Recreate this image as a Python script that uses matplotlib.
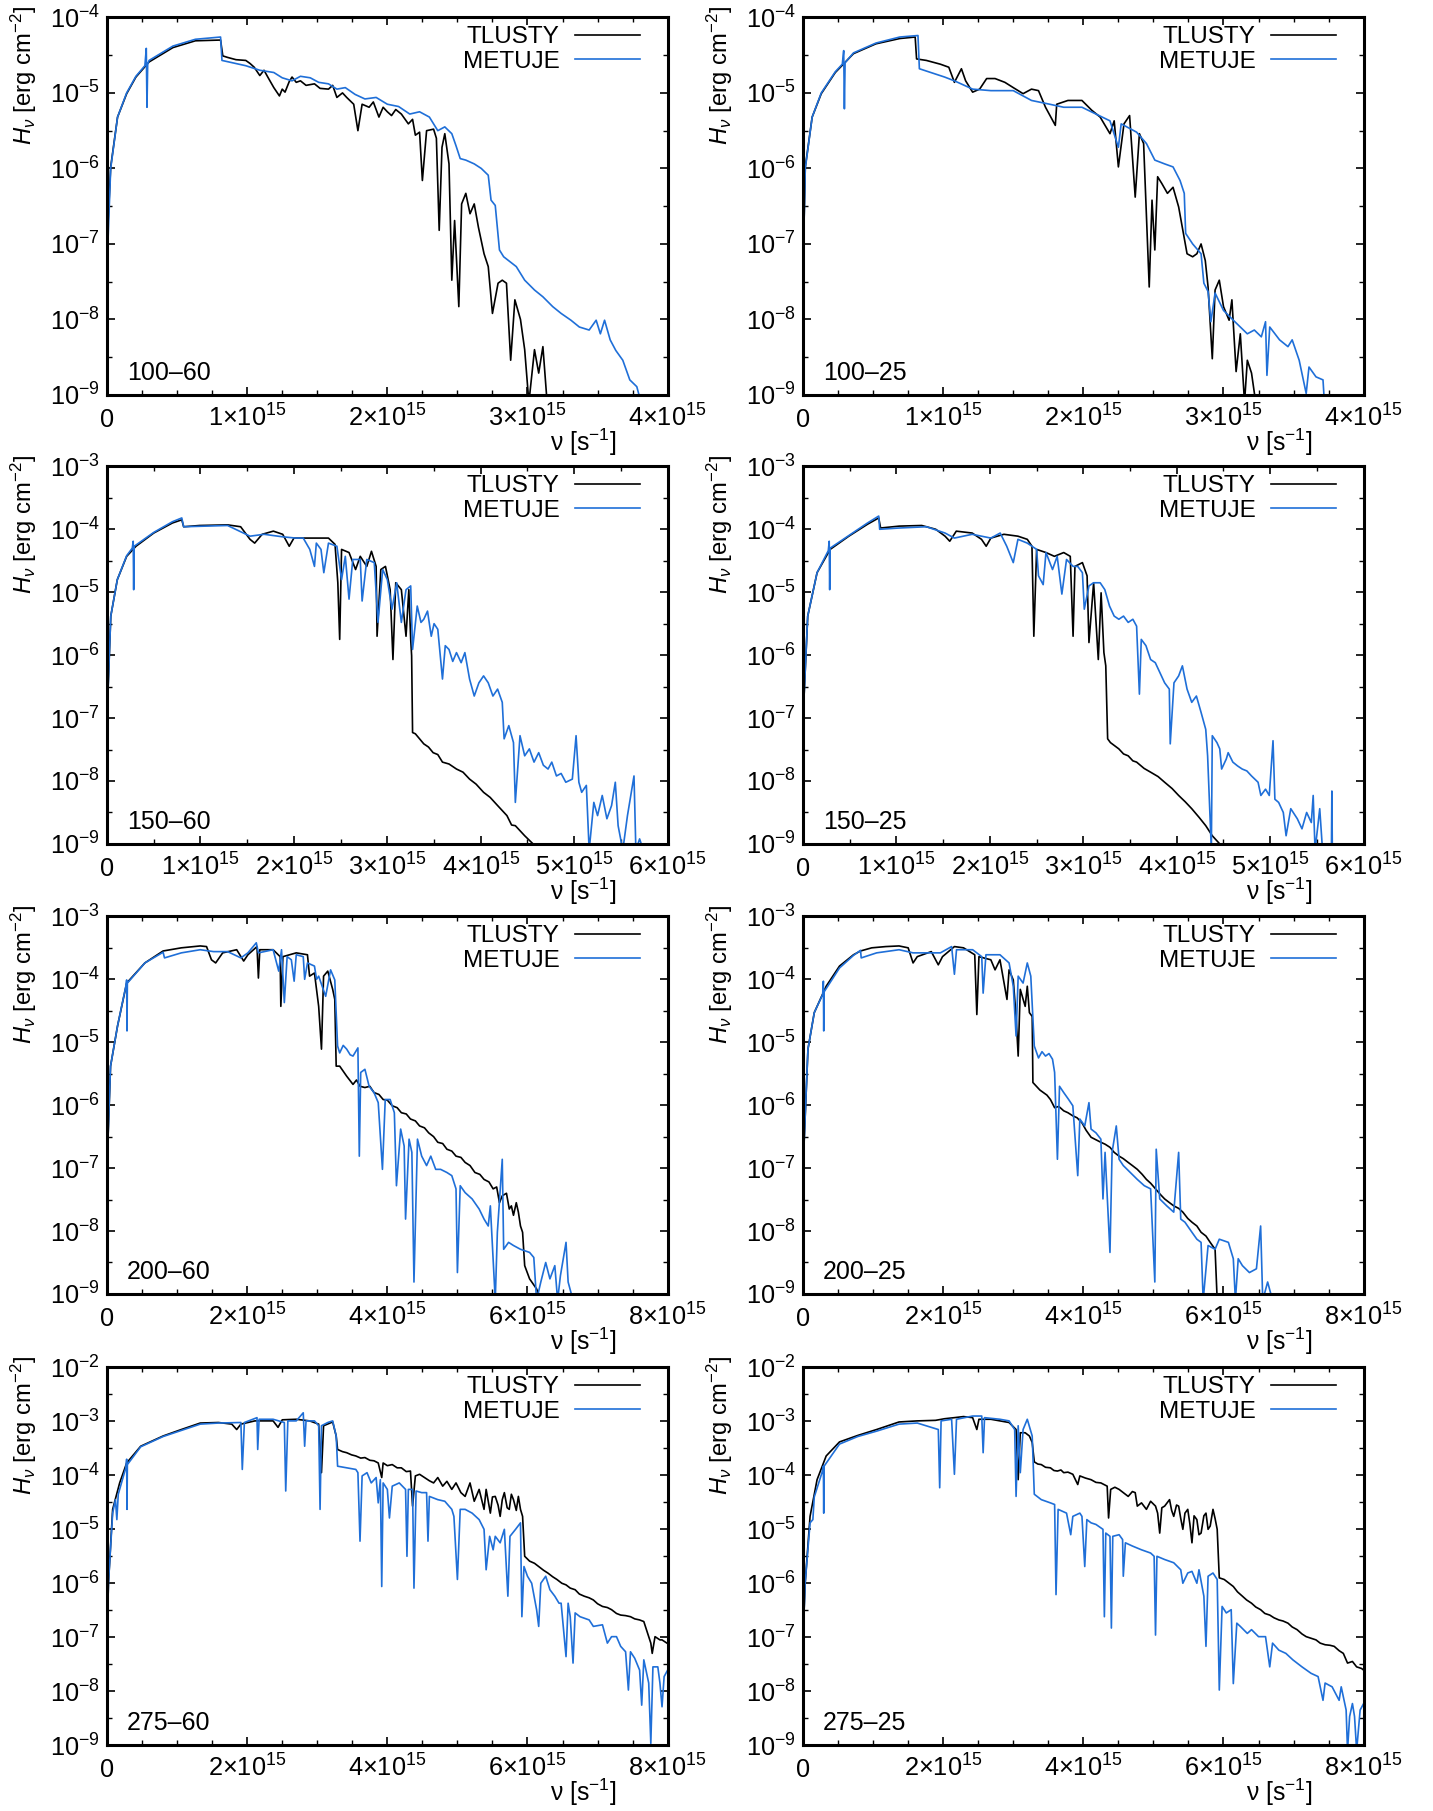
import numpy as np
import matplotlib.pyplot as plt
from matplotlib.ticker import MultipleLocator, FuncFormatter, LogLocator, LogFormatterSciNotation, NullFormatter

plt.rcParams['font.family'] = ['Liberation Sans', 'DejaVu Sans']
plt.rcParams['mathtext.fontset'] = 'custom'
plt.rcParams['mathtext.rm'] = 'Liberation Sans'
plt.rcParams['mathtext.it'] = 'Liberation Sans:italic'
plt.rcParams['mathtext.sf'] = 'Liberation Sans'
plt.rcParams['mathtext.bf'] = 'Liberation Sans:bold'

# (nu / 1e15, log10 H_nu)
tl_100_60 = [(0.0, -7.0), (0.026, -5.98), (0.075, -5.32), (0.14, -5.01), (0.206, -4.79), (0.30, -4.59), (0.47, -4.40),
             (0.63, -4.31), (0.81, -4.30), (0.826, -4.51), (0.86, -4.53), (0.92, -4.56), (0.99, -4.57), (1.02, -4.61),
             (1.05, -4.66), (1.09, -4.77), (1.12, -4.70), (1.15, -4.80), (1.19, -4.93), (1.23, -5.04), (1.25, -4.95),
             (1.27, -4.99), (1.30, -4.85), (1.32, -4.79), (1.35, -4.86), (1.38, -4.84), (1.42, -4.90), (1.48, -4.88),
             (1.52, -4.94), (1.58, -4.95), (1.61, -4.90), (1.64, -5.06), (1.68, -5.00), (1.71, -5.06), (1.76, -5.15),
             (1.79, -5.50), (1.82, -5.15), (1.87, -5.19), (1.90, -5.12), (1.94, -5.32), (1.97, -5.19), (2.00, -5.25),
             (2.03, -5.30), (2.06, -5.22), (2.10, -5.28), (2.15, -5.41), (2.18, -5.35), (2.20, -5.56), (2.23, -5.52),
             (2.25, -6.16), (2.28, -5.50), (2.33, -5.48), (2.35, -5.60), (2.37, -6.82), (2.39, -5.72), (2.41, -5.54),
             (2.44, -5.94), (2.46, -7.48), (2.48, -6.69), (2.51, -7.83), (2.53, -6.47), (2.56, -6.33), (2.59, -6.60),
             (2.62, -6.47), (2.65, -6.78), (2.69, -7.13), (2.72, -7.30), (2.75, -7.92), (2.79, -7.52), (2.82, -7.48),
             (2.85, -7.52), (2.88, -8.54), (2.91, -7.74), (2.95, -8.0), (2.98, -8.40), (3.01, -9.1), (3.05, -8.40),
             (3.08, -8.71), (3.11, -8.36), (3.14, -9.1)]
me_100_60 = [(0.0, -7.3), (0.026, -6.0), (0.075, -5.32), (0.14, -5.0), (0.206, -4.78), (0.27, -4.64), (0.28, -4.41),
             (0.285, -5.19), (0.29, -4.62), (0.30, -4.57), (0.47, -4.38), (0.63, -4.29), (0.81, -4.26), (0.82, -4.57),
             (0.99, -4.64), (1.09, -4.70), (1.19, -4.73), (1.25, -4.80), (1.32, -4.84), (1.38, -4.78), (1.45, -4.80),
             (1.51, -4.86), (1.58, -4.88), (1.64, -4.95), (1.70, -4.93), (1.77, -5.02), (1.84, -5.08), (1.92, -5.06),
             (2.0, -5.15), (2.08, -5.18), (2.16, -5.28), (2.23, -5.25), (2.30, -5.32), (2.36, -5.50), (2.41, -5.45),
             (2.46, -5.54), (2.49, -5.70), (2.52, -5.87), (2.56, -5.89), (2.62, -5.94), (2.67, -6.0), (2.72, -6.09),
             (2.74, -6.42), (2.77, -6.49), (2.80, -7.08), (2.83, -7.17), (2.92, -7.30), (2.98, -7.48), (3.05, -7.61),
             (3.11, -7.70), (3.18, -7.83), (3.24, -7.92), (3.31, -8.01), (3.37, -8.10), (3.44, -8.14), (3.49, -8.01),
             (3.52, -8.19), (3.55, -8.01), (3.59, -8.27), (3.63, -8.41), (3.68, -8.54), (3.73, -8.80), (3.78, -8.89),
             (3.81, -9.1)]

tl_100_25 = [(0.0, -7.3), (0.016, -5.98), (0.065, -5.32), (0.13, -5.01), (0.23, -4.73), (0.36, -4.48), (0.52, -4.35),
             (0.69, -4.28), (0.80, -4.26), (0.81, -4.55), (0.88, -4.57), (0.98, -4.62), (1.04, -4.66), (1.08, -4.86),
             (1.13, -4.68), (1.16, -4.84), (1.21, -4.99), (1.26, -4.95), (1.31, -4.81), (1.37, -4.81), (1.44, -4.86),
             (1.50, -4.93), (1.57, -5.01), (1.63, -4.95), (1.68, -4.97), (1.73, -5.19), (1.80, -5.43), (1.81, -5.15),
             (1.89, -5.10), (1.99, -5.10), (2.06, -5.23), (2.12, -5.32), (2.19, -5.54), (2.22, -5.37), (2.25, -5.98),
             (2.29, -5.41), (2.33, -5.30), (2.37, -6.38), (2.40, -5.54), (2.43, -5.67), (2.47, -7.57), (2.49, -6.42),
             (2.51, -7.08), (2.53, -6.11), (2.56, -6.20), (2.60, -6.33), (2.64, -6.25), (2.68, -6.51), (2.71, -6.82),
             (2.74, -7.13), (2.78, -7.17), (2.81, -7.13), (2.84, -7.0), (2.87, -7.22), (2.89, -7.57), (2.92, -8.52),
             (2.94, -7.61), (2.97, -7.48), (3.00, -7.83), (3.04, -8.01), (3.06, -7.74), (3.09, -8.69), (3.12, -8.19),
             (3.15, -9.1), (3.17, -8.54), (3.20, -8.71), (3.23, -9.1)]
me_100_25 = [(0.0, -7.3), (0.016, -6.0), (0.065, -5.32), (0.13, -5.0), (0.23, -4.72), (0.28, -4.62), (0.29, -4.44),
             (0.295, -5.21), (0.30, -4.60), (0.36, -4.47), (0.52, -4.34), (0.69, -4.26), (0.82, -4.24), (0.83, -4.68),
             (1.01, -4.79), (1.08, -4.84), (1.21, -4.95), (1.34, -4.97), (1.50, -4.97), (1.63, -5.10), (1.76, -5.15),
             (1.86, -5.19), (1.99, -5.19), (2.09, -5.28), (2.19, -5.37), (2.25, -5.72), (2.27, -5.41), (2.38, -5.52),
             (2.45, -5.67), (2.51, -5.89), (2.58, -5.94), (2.64, -5.98), (2.69, -6.16), (2.72, -6.33), (2.73, -6.86),
             (2.78, -7.0), (2.84, -7.13), (2.86, -7.52), (2.89, -7.63), (2.91, -8.03), (2.94, -7.65), (3.00, -7.88),
             (3.07, -8.01), (3.17, -8.19), (3.22, -8.14), (3.27, -8.23), (3.30, -8.03), (3.31, -8.74), (3.33, -8.10),
             (3.40, -8.27), (3.46, -8.36), (3.49, -8.27), (3.54, -8.54), (3.59, -8.98), (3.61, -8.63), (3.66, -8.76),
             (3.71, -8.80), (3.72, -9.1)]

tl_150_60 = [(0.0, -6.96), (0.04, -5.38), (0.11, -4.80), (0.21, -4.43), (0.31, -4.27), (0.50, -4.06), (0.70, -3.90),
             (0.80, -3.85), (0.82, -3.96), (0.99, -3.94), (1.29, -3.93), (1.43, -3.96), (1.53, -4.16), (1.58, -4.22),
             (1.66, -4.08), (1.78, -4.03), (1.88, -4.08), (1.95, -4.27), (2.0, -4.14), (2.12, -4.14), (2.27, -4.14),
             (2.37, -4.14), (2.44, -4.24), (2.47, -4.85), (2.49, -5.75), (2.51, -4.32), (2.59, -4.37), (2.66, -4.64),
             (2.71, -4.43), (2.78, -4.59), (2.83, -4.35), (2.88, -4.59), (2.89, -5.70), (2.93, -4.64), (2.98, -4.59),
             (3.03, -4.96), (3.06, -6.07), (3.09, -4.85), (3.15, -4.96), (3.20, -5.70), (3.23, -4.96), (3.25, -5.75),
             (3.26, -6.01), (3.27, -7.23), (3.30, -7.25), (3.39, -7.41), (3.44, -7.46), (3.49, -7.55), (3.54, -7.58),
             (3.59, -7.70), (3.66, -7.73), (3.74, -7.81), (3.81, -7.86), (3.88, -7.97), (3.95, -8.05), (4.03, -8.18),
             (4.10, -8.26), (4.18, -8.39), (4.28, -8.55), (4.33, -8.70), (4.37, -8.71), (4.47, -8.87), (4.56, -9.0)]
me_150_60 = [(0.0, -7.0), (0.04, -5.38), (0.11, -4.80), (0.21, -4.42), (0.27, -4.30), (0.28, -4.19), (0.285, -4.96),
             (0.29, -4.27), (0.31, -4.25), (0.50, -4.05), (0.70, -3.88), (0.80, -3.82), (0.82, -3.96), (1.29, -3.94),
             (1.53, -4.11), (1.68, -4.08), (1.88, -4.12), (2.02, -4.14), (2.10, -4.14), (2.17, -4.32), (2.22, -4.59),
             (2.24, -4.22), (2.29, -4.32), (2.32, -4.69), (2.37, -4.22), (2.46, -4.27), (2.51, -4.80), (2.55, -4.43),
             (2.59, -5.11), (2.63, -4.48), (2.71, -4.48), (2.73, -5.14), (2.78, -4.48), (2.86, -4.53), (2.90, -5.48),
             (2.95, -4.64), (3.00, -4.80), (3.05, -5.27), (3.10, -4.85), (3.15, -5.48), (3.20, -4.96), (3.25, -4.90),
             (3.27, -5.91), (3.32, -5.22), (3.36, -5.48), (3.39, -5.43), (3.43, -5.30), (3.47, -5.70), (3.50, -5.50),
             (3.54, -5.59), (3.59, -6.38), (3.62, -5.85), (3.66, -5.91), (3.70, -6.10), (3.74, -5.96), (3.79, -6.12),
             (3.83, -5.96), (3.88, -6.38), (3.93, -6.65), (3.98, -6.44), (4.03, -6.33), (4.08, -6.44), (4.13, -6.65),
             (4.18, -6.54), (4.23, -6.75), (4.25, -7.33), (4.30, -7.12), (4.35, -7.39), (4.37, -8.34), (4.42, -7.28),
             (4.47, -7.60), (4.52, -7.49), (4.57, -7.70), (4.62, -7.55), (4.67, -7.75), (4.72, -7.81), (4.76, -7.70),
             (4.81, -7.92), (4.86, -7.88), (4.91, -8.02), (4.98, -7.97), (5.02, -7.28), (5.05, -8.02), (5.08, -8.18),
             (5.13, -8.07), (5.16, -9.1), (5.21, -8.34), (5.25, -8.55), (5.30, -8.23), (5.35, -8.60), (5.40, -8.39),
             (5.44, -8.02), (5.47, -8.71), (5.52, -9.1), (5.57, -8.55), (5.64, -7.92), (5.66, -9.1), (5.70, -8.92),
             (5.74, -9.1)]

tl_150_25 = [(0.0, -7.0), (0.05, -5.38), (0.15, -4.69), (0.29, -4.32), (0.49, -4.11), (0.69, -3.92), (0.81, -3.82),
             (0.83, -3.98), (1.03, -3.95), (1.27, -3.94), (1.42, -4.0), (1.52, -4.11), (1.57, -4.19), (1.64, -4.03),
             (1.81, -4.06), (1.91, -4.16), (1.96, -4.27), (2.01, -4.14), (2.15, -4.08), (2.30, -4.11), (2.40, -4.16),
             (2.45, -4.27), (2.47, -5.70), (2.50, -4.32), (2.60, -4.37), (2.69, -4.43), (2.79, -4.37), (2.86, -4.43),
             (2.89, -5.70), (2.91, -4.59), (2.99, -4.53), (3.04, -4.74), (3.06, -5.80), (3.11, -4.85), (3.16, -6.07),
             (3.19, -5.01), (3.22, -5.96), (3.24, -6.17), (3.26, -7.33), (3.29, -7.39), (3.38, -7.49), (3.43, -7.57),
             (3.48, -7.60), (3.53, -7.68), (3.57, -7.70), (3.65, -7.80), (3.72, -7.86), (3.80, -7.93), (3.87, -8.02),
             (3.95, -8.12), (4.02, -8.23), (4.09, -8.33), (4.16, -8.44), (4.24, -8.58), (4.31, -8.71), (4.38, -8.87),
             (4.46, -9.0)]
me_150_25 = [(0.0, -7.0), (0.05, -5.38), (0.15, -4.69), (0.27, -4.34), (0.28, -4.19), (0.285, -4.96), (0.29, -4.30),
             (0.49, -4.10), (0.69, -3.90), (0.81, -3.79), (0.82, -4.0), (1.03, -3.98), (1.32, -3.96), (1.52, -4.06),
             (1.62, -4.14), (1.81, -4.08), (2.01, -4.14), (2.11, -4.06), (2.18, -4.27), (2.25, -4.53), (2.30, -4.16),
             (2.40, -4.22), (2.50, -4.32), (2.52, -4.74), (2.57, -4.88), (2.60, -4.37), (2.67, -4.64), (2.72, -4.43),
             (2.77, -5.03), (2.82, -4.48), (2.89, -4.59), (2.94, -4.59), (2.99, -4.69), (3.01, -5.27), (3.06, -4.90),
             (3.11, -4.85), (3.18, -4.85), (3.23, -4.96), (3.28, -5.22), (3.33, -5.38), (3.38, -5.43), (3.43, -5.38),
             (3.48, -5.48), (3.53, -5.43), (3.57, -5.54), (3.60, -6.62), (3.62, -5.75), (3.67, -5.85), (3.72, -6.07),
             (3.77, -6.12), (3.82, -6.28), (3.87, -6.44), (3.92, -6.54), (3.93, -7.41), (3.97, -6.44), (4.02, -6.33),
             (4.06, -6.17), (4.11, -6.54), (4.16, -6.75), (4.21, -6.65), (4.26, -6.91), (4.31, -7.18), (4.33, -7.60),
             (4.37, -9.1), (4.38, -7.28), (4.43, -7.39), (4.46, -7.49), (4.48, -7.81), (4.53, -7.65), (4.55, -7.55),
             (4.60, -7.70), (4.65, -7.76), (4.70, -7.81), (4.75, -7.84), (4.80, -7.92), (4.87, -8.02), (4.90, -8.23),
             (4.95, -8.13), (4.99, -8.23), (5.03, -7.36), (5.05, -8.29), (5.09, -8.34), (5.14, -8.50), (5.17, -8.87),
             (5.22, -8.44), (5.29, -8.60), (5.34, -8.76), (5.39, -8.50), (5.44, -8.66), (5.46, -8.23), (5.48, -9.1),
             (5.51, -8.71), (5.53, -8.44), (5.56, -9.1), (5.655, -9.1), (5.66, -8.16), (5.665, -9.1)]

tl_200_60 = [(0.0, -6.96), (0.05, -5.38), (0.15, -4.74), (0.28, -4.06), (0.54, -3.74), (0.80, -3.55), (1.06, -3.50),
             (1.33, -3.47), (1.42, -3.48), (1.49, -3.69), (1.55, -3.74), (1.65, -3.58), (1.85, -3.53), (1.95, -3.71),
             (2.01, -3.61), (2.14, -3.48), (2.16, -3.98), (2.18, -3.53), (2.37, -3.53), (2.47, -3.64), (2.48, -4.43),
             (2.51, -3.64), (2.70, -3.58), (2.86, -3.61), (2.89, -3.95), (2.96, -3.90), (3.02, -4.43), (3.06, -5.11),
             (3.09, -3.95), (3.15, -3.87), (3.22, -4.16), (3.25, -4.32), (3.27, -5.38), (3.32, -5.38), (3.42, -5.54),
             (3.51, -5.67), (3.56, -5.60), (3.61, -5.70), (3.68, -5.72), (3.75, -5.70), (3.81, -5.80), (3.88, -5.83),
             (3.94, -5.91), (4.00, -5.92), (4.07, -6.01), (4.14, -6.04), (4.20, -6.12), (4.27, -6.14), (4.33, -6.22),
             (4.40, -6.25), (4.46, -6.33), (4.53, -6.36), (4.59, -6.44), (4.66, -6.50), (4.72, -6.59), (4.79, -6.61),
             (4.85, -6.70), (4.92, -6.73), (4.98, -6.81), (5.05, -6.83), (5.11, -6.91), (5.18, -6.96), (5.25, -7.07),
             (5.32, -7.10), (5.38, -7.18), (5.45, -7.22), (5.51, -7.33), (5.56, -7.30), (5.60, -7.55), (5.64, -7.44),
             (5.70, -7.40), (5.74, -7.65), (5.77, -7.60), (5.80, -7.75), (5.84, -7.55), (5.87, -7.70), (5.90, -7.92),
             (5.93, -8.02), (5.96, -8.55), (6.03, -8.76), (6.13, -8.92), (6.16, -9.0)]
me_200_60 = [(0.0, -6.96), (0.05, -5.38), (0.15, -4.74), (0.27, -4.10), (0.28, -4.01), (0.285, -4.82), (0.29, -4.06),
             (0.54, -3.74), (0.80, -3.57), (0.82, -3.66), (1.06, -3.58), (1.33, -3.53), (1.52, -3.56), (1.72, -3.56),
             (1.91, -3.66), (2.01, -3.58), (2.13, -3.42), (2.16, -3.58), (2.37, -3.53), (2.45, -3.87), (2.49, -3.53),
             (2.53, -4.37), (2.57, -3.64), (2.63, -3.69), (2.67, -4.03), (2.70, -3.61), (2.80, -3.64), (2.82, -4.0),
             (2.86, -3.74), (2.96, -3.79), (2.99, -4.0), (3.02, -3.95), (3.12, -4.27), (3.19, -3.85), (3.25, -4.01),
             (3.29, -5.06), (3.32, -5.17), (3.37, -5.05), (3.42, -5.11), (3.47, -5.20), (3.51, -5.22), (3.58, -5.09),
             (3.60, -6.81), (3.62, -5.48), (3.68, -5.43), (3.74, -5.70), (3.81, -5.80), (3.87, -5.96), (3.93, -7.02),
             (3.97, -5.91), (4.04, -5.91), (4.10, -6.12), (4.13, -7.28), (4.19, -6.38), (4.24, -6.65), (4.26, -7.81),
             (4.31, -6.54), (4.35, -6.75), (4.38, -8.81), (4.43, -6.54), (4.49, -6.81), (4.56, -6.96), (4.62, -6.81),
             (4.69, -7.02), (4.76, -7.02), (4.85, -7.07), (4.92, -7.12), (4.98, -7.33), (5.00, -8.66), (5.04, -7.28),
             (5.11, -7.39), (5.21, -7.49), (5.31, -7.65), (5.38, -7.81), (5.44, -7.92), (5.47, -7.60), (5.54, -9.1),
             (5.57, -8.02), (5.64, -6.86), (5.66, -8.29), (5.73, -8.18), (5.80, -8.23), (5.90, -8.29), (6.03, -8.34),
             (6.09, -8.42), (6.13, -9.1), (6.19, -8.81), (6.26, -8.50), (6.32, -8.76), (6.39, -8.55), (6.43, -9.1),
             (6.47, -8.71), (6.55, -8.18), (6.58, -8.81), (6.65, -9.1)]

tl_200_25 = [(0.0, -7.0), (0.07, -5.11), (0.16, -4.53), (0.33, -4.11), (0.52, -3.79), (0.72, -3.61), (0.82, -3.55),
             (0.98, -3.50), (1.18, -3.48), (1.37, -3.47), (1.50, -3.50), (1.57, -3.74), (1.63, -3.64), (1.83, -3.56),
             (1.93, -3.77), (1.99, -3.64), (2.16, -3.48), (2.29, -3.50), (2.45, -3.61), (2.48, -4.56), (2.51, -3.64),
             (2.68, -3.69), (2.74, -3.85), (2.81, -3.69), (2.91, -4.32), (2.94, -3.85), (3.00, -4.01), (3.04, -4.59),
             (3.07, -5.22), (3.10, -4.16), (3.17, -4.43), (3.20, -4.11), (3.23, -4.53), (3.27, -4.59), (3.28, -5.64),
             (3.33, -5.70), (3.38, -5.76), (3.43, -5.80), (3.48, -5.84), (3.53, -5.91), (3.59, -6.04), (3.65, -6.02),
             (3.72, -6.09), (3.78, -6.12), (3.85, -6.17), (3.91, -6.20), (3.98, -6.28), (4.04, -6.40), (4.11, -6.51),
             (4.18, -6.55), (4.25, -6.59), (4.31, -6.62), (4.38, -6.67), (4.44, -6.75), (4.51, -6.81), (4.57, -6.85),
             (4.64, -6.91), (4.70, -6.96), (4.77, -7.02), (4.84, -7.10), (4.90, -7.18), (4.96, -7.24), (5.03, -7.33),
             (5.10, -7.42), (5.16, -7.49), (5.23, -7.55), (5.29, -7.60), (5.36, -7.64), (5.42, -7.70), (5.49, -7.80),
             (5.55, -7.86), (5.62, -7.92), (5.68, -8.02), (5.75, -8.08), (5.81, -8.18), (5.88, -8.29), (5.91, -9.1)]
me_200_25 = [(0.0, -7.0), (0.07, -5.11), (0.16, -4.53), (0.28, -4.24), (0.29, -4.03), (0.295, -4.82), (0.30, -4.20),
             (0.52, -3.82), (0.72, -3.62), (0.82, -3.54), (0.83, -3.66), (1.05, -3.58), (1.37, -3.53), (1.57, -3.58),
             (1.83, -3.58), (1.96, -3.58), (2.12, -3.48), (2.16, -3.92), (2.19, -3.53), (2.42, -3.53), (2.55, -3.64),
             (2.57, -4.22), (2.61, -3.61), (2.81, -3.61), (2.94, -3.74), (3.00, -4.11), (3.04, -4.90), (3.07, -3.95),
             (3.14, -4.06), (3.20, -3.74), (3.25, -3.95), (3.30, -5.06), (3.36, -5.25), (3.41, -5.15), (3.46, -5.22),
             (3.51, -5.18), (3.56, -5.27), (3.59, -5.48), (3.63, -6.86), (3.66, -5.70), (3.72, -5.80), (3.79, -5.91),
             (3.85, -6.01), (3.92, -7.12), (3.95, -6.22), (4.02, -6.33), (4.08, -5.96), (4.11, -6.38), (4.18, -6.44),
             (4.25, -6.54), (4.28, -7.49), (4.31, -6.75), (4.38, -8.34), (4.41, -6.75), (4.47, -6.33), (4.51, -6.86),
             (4.57, -6.96), (4.67, -7.07), (4.77, -7.18), (4.87, -7.28), (4.96, -7.33), (5.02, -8.81), (5.04, -6.70),
             (5.09, -7.49), (5.19, -7.60), (5.29, -7.70), (5.36, -6.75), (5.39, -7.81), (5.45, -7.86), (5.55, -8.02),
             (5.62, -8.13), (5.68, -8.18), (5.71, -9.1), (5.78, -8.23), (5.88, -8.29), (5.94, -8.13), (6.07, -8.18),
             (6.14, -8.44), (6.17, -9.1), (6.21, -8.44), (6.27, -8.55), (6.37, -8.66), (6.47, -8.60), (6.53, -7.92),
             (6.56, -9.1), (6.63, -8.81), (6.70, -9.1)]

tl_275_60 = [(0.0, -7.0), (0.02, -6.0), (0.08, -4.63), (0.18, -4.14), (0.28, -3.77), (0.48, -3.46), (0.80, -3.27),
             (1.06, -3.15), (1.33, -3.03), (1.59, -3.02), (1.78, -3.05), (1.85, -3.15), (1.91, -3.05), (2.11, -2.99),
             (2.37, -2.99), (2.44, -3.11), (2.50, -2.97), (2.70, -2.96), (2.89, -2.99), (3.02, -3.05), (3.06, -3.95),
             (3.09, -3.08), (3.22, -3.01), (3.27, -3.27), (3.29, -3.52), (3.36, -3.56), (3.42, -3.58), (3.49, -3.62),
             (3.55, -3.64), (3.62, -3.68), (3.68, -3.67), (3.75, -3.72), (3.81, -3.73), (3.87, -3.77), (3.92, -4.04),
             (3.94, -3.77), (4.00, -3.82), (4.07, -3.80), (4.14, -3.86), (4.20, -3.86), (4.27, -3.93), (4.33, -3.92),
             (4.36, -4.57), (4.40, -4.01), (4.46, -3.98), (4.53, -4.04), (4.60, -4.10), (4.66, -4.14), (4.72, -4.04),
             (4.79, -4.20), (4.85, -4.11), (4.92, -4.26), (4.98, -4.14), (5.05, -4.32), (5.11, -4.39), (5.18, -4.14),
             (5.24, -4.48), (5.31, -4.26), (5.38, -4.63), (5.41, -4.26), (5.47, -4.70), (5.50, -4.40), (5.54, -4.39),
             (5.58, -4.55), (5.61, -4.76), (5.64, -4.45), (5.67, -4.32), (5.71, -4.60), (5.74, -4.63), (5.77, -4.35),
             (5.80, -4.45), (5.84, -4.65), (5.87, -4.39), (5.90, -4.63), (5.93, -4.76), (5.96, -5.50), (6.03, -5.59),
             (6.10, -5.63), (6.16, -5.69), (6.23, -5.76), (6.29, -5.81), (6.36, -5.88), (6.42, -5.93), (6.49, -6.00),
             (6.55, -6.03), (6.61, -6.09), (6.68, -6.12), (6.74, -6.20), (6.81, -6.24), (6.88, -6.27), (6.94, -6.31),
             (7.00, -6.38), (7.07, -6.43), (7.14, -6.45), (7.20, -6.49), (7.27, -6.56), (7.33, -6.59), (7.40, -6.60),
             (7.47, -6.62), (7.53, -6.66), (7.60, -6.68), (7.66, -6.71), (7.73, -6.99), (7.76, -7.11), (7.78, -7.30),
             (7.82, -6.99), (7.89, -7.05), (7.92, -7.05), (7.99, -7.11)]
me_275_60 = [(0.0, -7.0), (0.02, -6.0), (0.08, -4.70), (0.12, -4.45), (0.14, -4.82), (0.16, -4.35), (0.27, -3.85),
             (0.28, -3.70), (0.285, -4.63), (0.29, -3.80), (0.48, -3.47), (0.80, -3.28), (1.33, -3.05), (1.59, -3.03),
             (1.91, -3.02), (1.93, -3.89), (1.96, -3.02), (2.14, -2.93), (2.15, -3.52), (2.17, -2.96), (2.37, -2.96),
             (2.53, -3.02), (2.55, -4.29), (2.58, -2.99), (2.70, -2.99), (2.80, -2.84), (2.82, -3.46), (2.84, -2.99),
             (2.96, -2.99), (3.02, -3.08), (3.04, -4.63), (3.06, -3.08), (3.15, -3.02), (3.22, -2.99), (3.27, -3.27),
             (3.29, -3.83), (3.42, -3.86), (3.55, -3.89), (3.58, -3.95), (3.61, -5.22), (3.64, -4.01), (3.71, -3.95),
             (3.77, -4.14), (3.84, -4.04), (3.87, -4.51), (3.90, -4.08), (3.92, -6.06), (3.94, -4.14), (4.00, -4.26),
             (4.03, -4.79), (4.07, -4.20), (4.17, -4.14), (4.26, -4.26), (4.28, -5.50), (4.30, -4.26), (4.36, -4.26),
             (4.38, -6.09), (4.41, -4.29), (4.49, -4.32), (4.56, -4.32), (4.58, -5.22), (4.60, -4.39), (4.72, -4.45),
             (4.82, -4.48), (4.92, -4.63), (4.95, -4.76), (5.00, -5.93), (5.04, -4.63), (5.11, -4.63), (5.21, -4.70),
             (5.31, -4.82), (5.38, -5.00), (5.41, -5.75), (5.46, -5.13), (5.51, -5.38), (5.54, -5.13), (5.61, -5.25),
             (5.67, -5.00), (5.72, -6.24), (5.75, -5.13), (5.83, -5.00), (5.90, -4.88), (5.92, -6.62), (5.95, -5.69),
             (6.00, -5.87), (6.06, -6.00), (6.13, -6.49), (6.16, -6.80), (6.19, -6.00), (6.26, -5.87), (6.32, -6.12),
             (6.39, -6.24), (6.45, -6.37), (6.48, -6.37), (6.55, -7.36), (6.58, -6.37), (6.61, -6.62), (6.65, -7.48),
             (6.68, -6.55), (6.75, -6.62), (6.88, -6.68), (6.94, -6.80), (7.07, -6.77), (7.14, -7.11), (7.20, -6.99),
             (7.27, -6.99), (7.33, -7.17), (7.40, -7.27), (7.44, -7.98), (7.47, -7.27), (7.53, -7.39), (7.60, -7.61),
             (7.63, -8.26), (7.66, -7.42), (7.73, -7.85), (7.76, -8.97), (7.79, -7.55), (7.86, -7.55), (7.89, -7.85),
             (7.92, -8.29), (7.95, -7.73), (8.0, -7.61)]

tl_275_25 = [(0.0, -7.0), (0.03, -6.0), (0.10, -4.76), (0.20, -4.08), (0.33, -3.64), (0.52, -3.38), (0.78, -3.26),
             (1.05, -3.15), (1.37, -3.01), (1.63, -2.99), (1.89, -2.98), (2.02, -2.95), (2.16, -2.93), (2.29, -2.91),
             (2.42, -2.93), (2.48, -3.15), (2.51, -2.96), (2.68, -2.96), (2.81, -2.99), (2.94, -3.02), (3.04, -3.15),
             (3.07, -4.08), (3.10, -3.21), (3.17, -3.21), (3.23, -3.27), (3.27, -3.39), (3.30, -3.75), (3.35, -3.79),
             (3.40, -3.80), (3.46, -3.85), (3.53, -3.86), (3.58, -3.91), (3.63, -3.92), (3.68, -3.90), (3.72, -3.95),
             (3.78, -3.94), (3.85, -3.98), (3.92, -4.17), (3.95, -4.01), (4.03, -4.05), (4.11, -4.08), (4.18, -4.13),
             (4.25, -4.14), (4.34, -4.20), (4.36, -4.79), (4.39, -4.26), (4.45, -4.22), (4.51, -4.26), (4.58, -4.33),
             (4.64, -4.39), (4.70, -4.30), (4.74, -4.32), (4.77, -4.57), (4.83, -4.51), (4.90, -4.63), (4.96, -4.48),
             (5.03, -4.57), (5.06, -4.70), (5.09, -5.07), (5.12, -4.60), (5.16, -4.57), (5.23, -4.45), (5.26, -4.65),
             (5.29, -4.76), (5.33, -4.55), (5.36, -4.57), (5.39, -4.80), (5.42, -5.00), (5.45, -4.70), (5.49, -4.63),
             (5.52, -4.90), (5.55, -5.25), (5.58, -4.75), (5.62, -4.82), (5.65, -5.10), (5.68, -5.07), (5.72, -4.75),
             (5.75, -4.70), (5.78, -5.00), (5.81, -4.94), (5.85, -4.63), (5.88, -4.80), (5.91, -5.00), (5.94, -5.90),
             (6.01, -5.93), (6.07, -5.99), (6.14, -6.06), (6.20, -6.16), (6.27, -6.24), (6.33, -6.31), (6.40, -6.37),
             (6.46, -6.44), (6.53, -6.49), (6.59, -6.56), (6.66, -6.59), (6.72, -6.64), (6.79, -6.68), (6.85, -6.70),
             (6.92, -6.74), (6.98, -6.81), (7.05, -6.86), (7.12, -6.94), (7.18, -6.99), (7.25, -7.02), (7.32, -7.05),
             (7.38, -7.11), (7.45, -7.14), (7.52, -7.15), (7.58, -7.17), (7.65, -7.25), (7.71, -7.30), (7.77, -7.48),
             (7.84, -7.45), (7.90, -7.55), (7.97, -7.58), (8.0, -7.61)]
me_275_25 = [(0.0, -7.0), (0.03, -6.0), (0.10, -4.88), (0.14, -4.82), (0.16, -4.40), (0.27, -3.95), (0.29, -3.83),
             (0.295, -4.70), (0.30, -3.83), (0.52, -3.42), (0.78, -3.28), (1.05, -3.18), (1.37, -3.05), (1.63, -3.03),
             (1.93, -3.15), (1.95, -4.23), (1.97, -2.99), (2.12, -2.96), (2.16, -3.98), (2.19, -2.96), (2.42, -2.90),
             (2.55, -2.90), (2.57, -3.58), (2.59, -2.93), (2.81, -2.96), (2.94, -2.99), (3.02, -3.15), (3.04, -4.39),
             (3.07, -3.08), (3.10, -3.95), (3.14, -3.15), (3.20, -2.96), (3.27, -3.27), (3.30, -4.35), (3.40, -4.45),
             (3.53, -4.51), (3.59, -4.54), (3.61, -6.21), (3.64, -4.63), (3.76, -4.70), (3.82, -5.10), (3.85, -4.76),
             (3.95, -4.70), (3.98, -4.76), (4.02, -5.69), (4.05, -4.82), (4.11, -4.88), (4.18, -4.91), (4.28, -5.00),
             (4.30, -6.62), (4.32, -5.07), (4.38, -5.13), (4.40, -6.83), (4.42, -5.13), (4.51, -5.10), (4.56, -5.19),
             (4.57, -5.87), (4.60, -5.25), (4.70, -5.31), (4.83, -5.38), (4.96, -5.44), (5.01, -5.50), (5.03, -6.96),
             (5.05, -5.50), (5.16, -5.56), (5.29, -5.62), (5.39, -5.75), (5.42, -6.0), (5.49, -5.81), (5.55, -5.78),
             (5.62, -6.0), (5.65, -5.75), (5.72, -6.24), (5.75, -7.17), (5.78, -5.87), (5.85, -5.81), (5.91, -5.93),
             (5.94, -7.98), (5.98, -6.43), (6.04, -6.55), (6.11, -6.49), (6.14, -7.86), (6.19, -6.74), (6.24, -6.80),
             (6.34, -6.93), (6.40, -6.86), (6.50, -6.99), (6.60, -6.99), (6.66, -7.55), (6.70, -7.11), (6.79, -7.24),
             (6.89, -7.30), (6.99, -7.42), (7.12, -7.55), (7.25, -7.67), (7.35, -7.73), (7.42, -8.17), (7.45, -7.85),
             (7.55, -7.92), (7.65, -8.17), (7.68, -7.92), (7.75, -8.35), (7.77, -9.1), (7.80, -8.47), (7.84, -8.23),
             (7.87, -8.47), (7.90, -9.1), (7.95, -8.35), (8.0, -8.23)]

labels = ['100\u201360', '100\u201325', '150\u201360', '150\u201325',
          '200\u201360', '200\u201325', '275\u201360', '275\u201325']
tlusty = [tl_100_60, tl_100_25, tl_150_60, tl_150_25, tl_200_60, tl_200_25, tl_275_60, tl_275_25]
metuje = [me_100_60, me_100_25, me_150_60, me_150_25, me_200_60, me_200_25, me_275_60, me_275_25]
xmax = [4, 4, 6, 6, 8, 8, 8, 8]          # in 1e15 s^-1
xmajor = [1, 1, 1, 1, 2, 2, 2, 2]
xminor = [0.25, 0.25, 0.5, 0.5, 0.5, 0.5, 0.5, 0.5]
ytop = [-4, -4, -3, -3, -3, -3, -2, -2]  # log10 of upper y limit

blue = '#1f6fd8'
fs = 18.3

fig = plt.figure(figsize=(14.33, 18.11), dpi=100)
lefts = [0.0747, 0.5604]
bottoms = [0.7819, 0.5340, 0.2855, 0.0364]


def xfmt(v, pos):
    n = int(round(v / 1e15))
    if n == 0:
        return '0'
    return r'$\mathdefault{%d{\times}10^{15}}$' % n


for i in range(8):
    row, col = divmod(i, 2)
    ax = fig.add_axes([lefts[col], bottoms[row], 0.3912, 0.2085])
    t = np.array(tlusty[i])
    m = np.array(metuje[i])
    ax.plot(t[:, 0] * 1e15, 10 ** t[:, 1], color='black', lw=1.2, label='TLUSTY')
    ax.plot(m[:, 0] * 1e15, 10 ** m[:, 1], color=blue, lw=1.2, label='METUJE')
    ax.set_yscale('log')
    ax.set_xlim(0, xmax[i] * 1e15)
    ax.set_ylim(1e-9, 10.0 ** ytop[i])
    ax.xaxis.set_major_locator(MultipleLocator(xmajor[i] * 1e15))
    ax.xaxis.set_minor_locator(MultipleLocator(xminor[i] * 1e15))
    ax.xaxis.set_major_formatter(FuncFormatter(xfmt))
    ax.yaxis.set_major_locator(LogLocator(base=10, numticks=20))
    ax.yaxis.set_major_formatter(LogFormatterSciNotation())
    ax.yaxis.set_minor_locator(LogLocator(base=10, subs=(10 ** 0.5,), numticks=20))
    ax.yaxis.set_minor_formatter(NullFormatter())
    ax.tick_params(which='both', direction='in', top=True, right=True, labelsize=fs)
    ax.tick_params(which='major', length=6, width=1.2)
    ax.tick_params(which='minor', length=3.5, width=1.0)
    ax.tick_params(axis='x', which='major', pad=23)
    ax.tick_params(axis='y', which='major', pad=5)
    for lab in ax.get_xticklabels():
        lab.set_verticalalignment('baseline')
    for s in ax.spines.values():
        s.set_linewidth(2.2)

    ax.legend(loc='upper right', bbox_to_anchor=(0.95, 0.977), markerfirst=False, frameon=False,
              fontsize=17.5, handlelength=2.65, handletextpad=0.65, borderaxespad=0, borderpad=0,
              labelspacing=0.11)
    ax.text(0.036, 0.04, labels[i], transform=ax.transAxes, fontsize=18, ha='left', va='baseline')
    ax.text(-0.148, 0.661, r'$H_\nu$ [erg cm$^{-2}$]', transform=ax.transAxes, rotation=90,
            fontsize=17.2, ha='center', va='bottom')
    ax.text(0.85, -0.125, r'$\mathdefault{\nu}$ [s$^{-1}$]', transform=ax.transAxes,
            fontsize=17.8, ha='center', va='center')

fig.savefig('out.png', dpi=100)
